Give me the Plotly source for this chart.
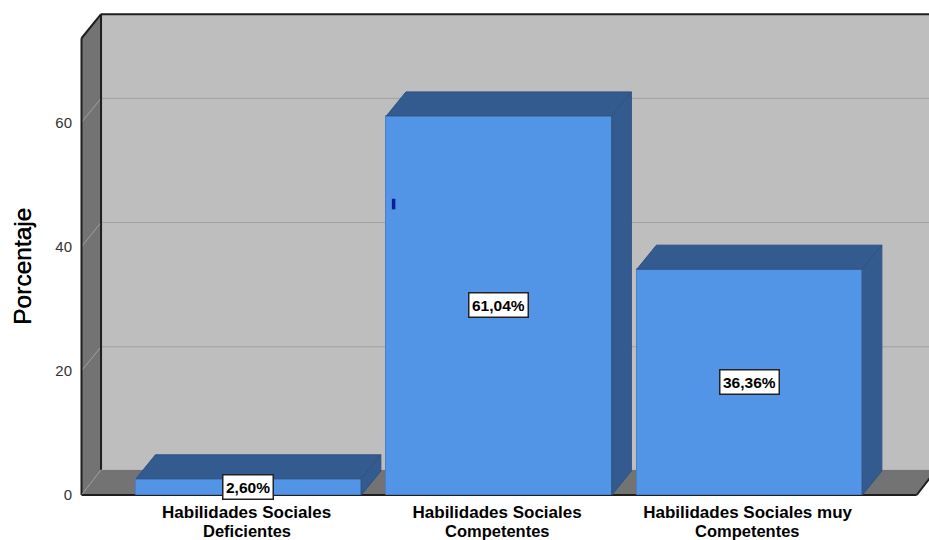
import plotly.graph_objects as go

categories_line1 = ["Habilidades Sociales", "Habilidades Sociales", "Habilidades Sociales muy"]
categories_line2 = ["Deficientes", "Competentes", "Competentes"]
percentages = [2.60, 61.04, 36.36]
value_labels = ["2,60%", "61,04%", "36,36%"]
y_ticks = [0, 20, 40, 60]
y_title = "Porcentaje"
stray_mark_x = [0.579, 0.579]
stray_mark_y = [46.0, 47.7]

FRONT = "#5294E6"
DARK = "#345B90"
WALL = "#BEBEBE"
SIDE = "#737373"
GRID = "#A0A0A0"
EDGE = "#1E1E1E"
FONT = "Liberation Sans"

BAR_W = 0.9
DX = 0.078      # depth of the 3D box, x data units
DY = 3.87       # depth of the 3D box, y data units
FLOOR_DY = 4.05 # depth of the floor, y data units
X_L, X_R = -0.667, 2.667
Y_TOP = 73.55   # front top of the left wall

x = list(range(len(percentages)))
fig = go.Figure()
fig.add_bar(x=x, y=percentages, width=BAR_W,
            marker=dict(color=FRONT, line=dict(color="#4A80C8", width=1)),
            hoverinfo="skip")

xs_top, ys_top, xs_side, ys_side = [], [], [], []
for i, v in zip(x, percentages):
    a, b = i - BAR_W / 2, i + BAR_W / 2
    xs_top += [a, b, b + DX, a + DX, a, None]
    ys_top += [v, v, v + DY, v + DY, v, None]
    xs_side += [b, b, b + DX, b + DX, b, None]
    ys_side += [0, v, v + DY, DY, 0, None]
for xs, ys in ((xs_top, ys_top), (xs_side, ys_side)):
    fig.add_scatter(x=xs, y=ys, mode="lines", fill="toself", fillcolor=DARK,
                    line=dict(color="#2F5280", width=1), hoverinfo="skip")

fig.add_scatter(x=stray_mark_x, y=stray_mark_y, mode="lines",
                line=dict(color="#0A1E9C", width=3.5), hoverinfo="skip")


def poly(pts, fill, line=None, width=0):
    d = "M " + " L ".join(f"{p[0]} {p[1]}" for p in pts) + " Z"
    return dict(type="path", path=d, xref="x", yref="y", layer="below",
                fillcolor=fill, line=dict(color=line or fill, width=width))


def seg(x0, y0, x1, y1, color, width):
    return dict(type="line", x0=x0, y0=y0, x1=x1, y1=y1, xref="x", yref="y",
                layer="below", line=dict(color=color, width=width))


bx_l, bx_r, by_b, by_t = X_L + DX, X_R + DX, FLOOR_DY, Y_TOP + DY
shapes = [
    poly([(bx_l, by_b), (bx_r, by_b), (bx_r, by_t), (bx_l, by_t)], WALL),
    poly([(X_L, 0), (bx_l, by_b), (bx_l, by_t), (X_L, Y_TOP)], SIDE),
    poly([(X_L, 0), (X_R, 0), (bx_r, by_b), (bx_l, by_b)], SIDE),
]
for t in y_ticks[1:]:
    shapes.append(seg(bx_l, t + DY, bx_r, t + DY, GRID, 1))
    shapes.append(seg(X_L, t, bx_l, t + DY, GRID, 1))
shapes += [
    seg(X_L, 0, X_L, Y_TOP, EDGE, 2),
    seg(X_L, Y_TOP, bx_l, by_t, EDGE, 2),
    seg(bx_l, by_t, bx_r, by_t, EDGE, 2),
    seg(bx_l, by_b, bx_l, by_t, EDGE, 2),
    seg(X_L, 0, bx_l, by_b, "#9A9A9A", 1),
    seg(X_L, 0, X_R, 0, EDGE, 2),
    seg(X_R, 0, bx_r, by_b, EDGE, 2),
]

annotations = [
    dict(x=i, y=v / 2, text=f"<b>{t}</b>", showarrow=False, xref="x", yref="y",
         bgcolor="white", bordercolor="#222222", borderwidth=1.5, borderpad=2.5,
         height=18, xshift=-0.5,
         font=dict(family=FONT, size=15.5, color="black"))
    for i, v, t in zip(x, percentages, value_labels)
]
annotations += [
    dict(x=i, y=0, text=f"<b>{t}</b>", showarrow=False, xref="x", yref="paper",
         yanchor="middle", yshift=-30.5, xshift=-2, borderpad=0, borderwidth=0,
         font=dict(family=FONT, size=16.5, color="black"))
    for i, t in zip(x, categories_line2)
]
annotations.append(
    dict(x=0, y=0, text=y_title, showarrow=False, xref="paper", yref="paper",
         textangle=-90, xshift=-54, yshift=233, xanchor="center", yanchor="middle",
         font=dict(family=FONT, size=24.5, color="black", shadow="0.5px 0 0 black"))
)

PX_X = 250.5
PX_Y = 6.21
L, B, T = 76, 40, 8
W, H = 929, 540
fig.update_layout(
    width=W, height=H, autosize=False, showlegend=False,
    margin=dict(l=L, r=0, t=T, b=B, pad=0),
    paper_bgcolor="white", plot_bgcolor="white",
    shapes=shapes, annotations=annotations,
    bargap=0,
    font=dict(family=FONT, color="#222222"),
    xaxis=dict(range=[X_L - (81 - L) / PX_X - 0.002, X_L + (W - 81) / PX_X - 0.002],
               tickmode="array", tickvals=x, ticktext=[f"<b>{c}</b>" for c in categories_line1],
               tickfont=dict(family=FONT, size=17, color="black"),
               ticklabelshift=-2, ticklabelstandoff=0,
               showgrid=False, zeroline=False, ticks="", showline=False, fixedrange=True),
    yaxis=dict(range=[-(H - B - 495) / PX_Y, (495 - T) / PX_Y],
               tickmode="array", tickvals=y_ticks, ticktext=[str(t) for t in y_ticks],
               tickfont=dict(family=FONT, size=15, color="#333333"),
               ticklabelstandoff=3,
               showgrid=False, zeroline=False, ticks="", showline=False, fixedrange=True),
)

fig.write_html("out.html", post_script="document.body.style.margin='0';", config=dict(displayModeBar=False))
